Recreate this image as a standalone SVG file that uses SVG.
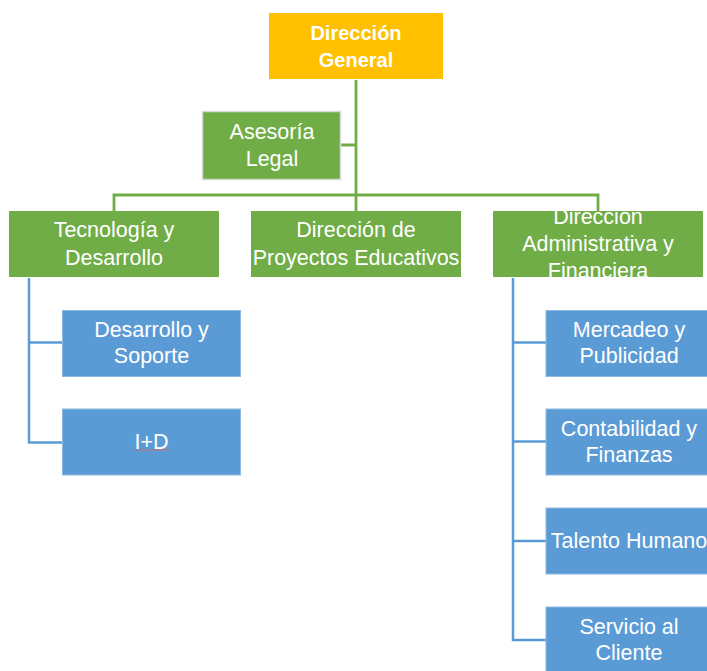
<svg xmlns="http://www.w3.org/2000/svg" width="707" height="671" viewBox="0 0 707 671">
<style>
.t{font-family:"Liberation Sans",Arial,sans-serif;font-size:21.5px;fill:#FFFFFF;text-anchor:middle}
.b{font-weight:bold;font-size:20px}
.g{fill:#70AD47}
.bl{fill:#5B9BD5;stroke:#8DB9E3;stroke-width:1}
.cg{fill:none;stroke:#70AD47;stroke-width:2.8}
.cb{fill:none;stroke:#5B9BD5;stroke-width:2.5}
</style>
<defs>
<clipPath id="clipAdm"><rect x="493" y="211" width="210" height="66"/></clipPath>
</defs>
<rect width="707" height="671" fill="#FFFFFF"/>
<g id="connectors">
<path class="cg" d="M356 80V211M341 145H356M114 211V195H598V211"/>
<path class="cb" d="M29 278V442.5H62M29 342.5H62"/>
<path class="cb" d="M513 278V640H546M513 342.5H546M513 441.5H546M513 541H546"/>
</g>
<g id="direccion-general">
<rect x="269" y="13" width="174" height="66" fill="#FFC000"/>
<text class="t b" x="356" y="40">Dirección</text>
<text class="t b" x="356" y="66.5">General</text>
</g>
<g id="asesoria-legal">
<rect x="202.5" y="111.5" width="138" height="68" class="g" stroke="#D6DCD0" stroke-width="1.5"/>
<text class="t" x="272" y="139">Asesoría</text>
<text class="t" x="272" y="166">Legal</text>
</g>
<g id="tecnologia">
<rect x="9" y="211" width="210" height="66" class="g"/>
<text class="t" x="114" y="237">Tecnología y</text>
<text class="t" x="114" y="265">Desarrollo</text>
</g>
<g id="proyectos">
<rect x="251" y="211" width="210" height="66" class="g"/>
<text class="t" x="356" y="237">Dirección de</text>
<text class="t" x="356" y="265">Proyectos Educativos</text>
</g>
<g id="administrativa">
<rect x="493" y="211" width="210" height="66" class="g"/>
<g clip-path="url(#clipAdm)">
<text class="t" x="598" y="224">Dirección</text>
<text class="t" x="598" y="251">Administrativa y</text>
<text class="t" x="598" y="278">Financiera</text>
</g>
</g>
<g id="desarrollo-soporte">
<rect x="62.5" y="310.5" width="178" height="66" class="bl"/>
<text class="t" x="151.5" y="337">Desarrollo y</text>
<text class="t" x="151.5" y="363">Soporte</text>
</g>
<g id="i-d">
<rect x="62.5" y="409" width="178" height="66" class="bl"/>
<text class="t" x="151.5" y="449">I+D</text>
<line x1="135" y1="450" x2="169" y2="450" stroke="#E06060" stroke-width="0.8"/>
</g>
<g id="mercadeo">
<rect x="546" y="310.5" width="178" height="66" class="bl"/>
<text class="t" x="629" y="337">Mercadeo y</text>
<text class="t" x="629" y="363">Publicidad</text>
</g>
<g id="contabilidad">
<rect x="546" y="409" width="178" height="66" class="bl"/>
<text class="t" x="629" y="436">Contabilidad y</text>
<text class="t" x="629" y="462">Finanzas</text>
</g>
<g id="talento">
<rect x="546" y="508" width="178" height="66" class="bl"/>
<text class="t" x="629" y="548">Talento Humano</text>
</g>
<g id="servicio">
<rect x="546" y="607" width="178" height="66" class="bl"/>
<text class="t" x="629" y="634">Servicio al</text>
<text class="t" x="629" y="660">Cliente</text>
</g>
</svg>
